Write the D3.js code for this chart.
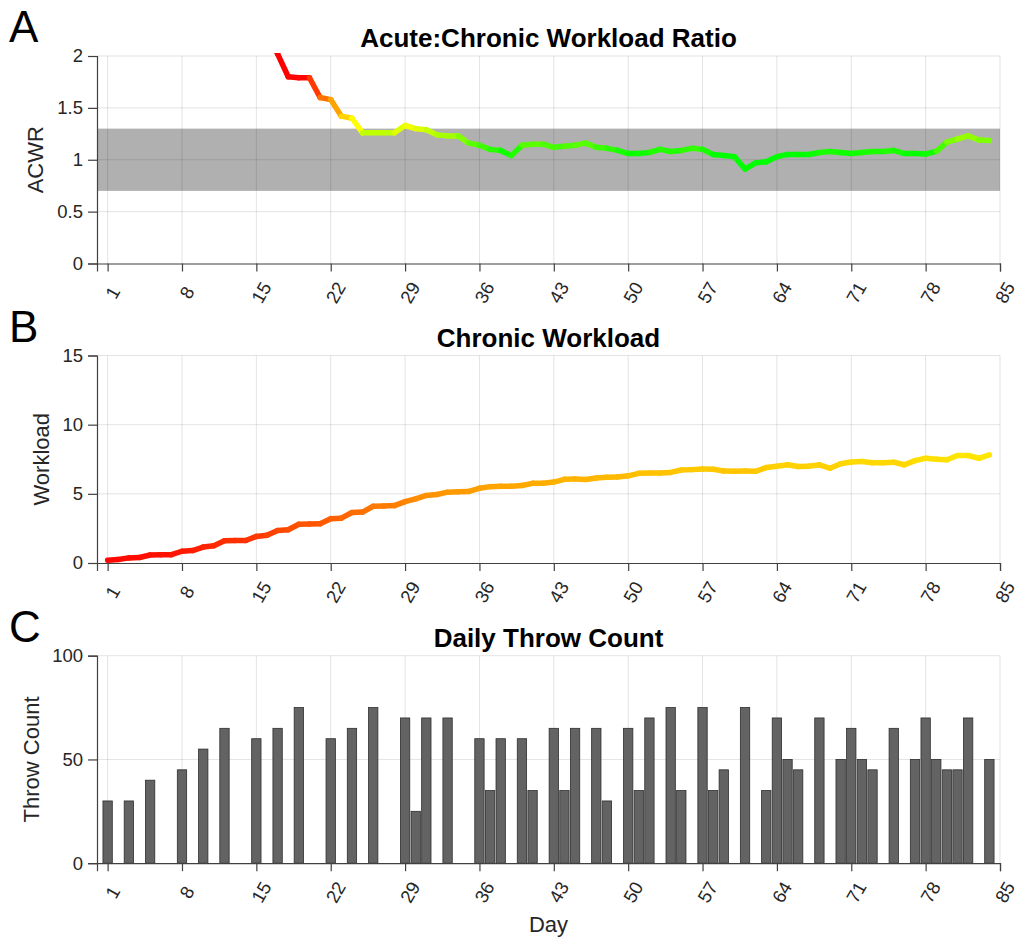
<!DOCTYPE html>
<html>
<head>
<meta charset="utf-8">
<script src="https://cdnjs.cloudflare.com/ajax/libs/d3/7.8.5/d3.min.js"></script>
<style>
  body { margin: 0; background: #fff; }
  text { font-family: "Liberation Sans", Arial, sans-serif; fill: #262626; }
  .title { font-weight: bold; font-size: 26px; fill: #000; }
  .letter { font-size: 44px; fill: #000; }
  .tick { font-size: 18.5px; }
  .ylab { font-size: 22px; }
</style>
</head>
<body>
<div id="viz"></div>
<script>
// ---- data ----
var xTicks = [1, 8, 15, 22, 29, 36, 43, 50, 57, 64, 71, 78, 85];

// acute:chronic ratio, one value per day starting at day 16 (earlier days are off the chart)
var acwrStart = 16;
var acwr = [2.25, 2.02, 1.80, 1.79, 1.79, 1.60, 1.58, 1.42, 1.40, 1.26,
            1.26, 1.26, 1.26, 1.33, 1.30, 1.29, 1.24, 1.23, 1.23, 1.16,
            1.14, 1.10, 1.09, 1.04, 1.14, 1.15, 1.15, 1.12, 1.13, 1.14,
            1.16, 1.12, 1.11, 1.09, 1.06, 1.06, 1.07, 1.10, 1.08, 1.09,
            1.11, 1.10, 1.05, 1.04, 1.03, 0.91, 0.97, 0.98, 1.03, 1.05,
            1.05, 1.05, 1.07, 1.08, 1.07, 1.06, 1.07, 1.08, 1.08, 1.09,
            1.06, 1.06, 1.055, 1.08, 1.17, 1.20, 1.23, 1.19, 1.185];
var acwrTicks = [0, 0.5, 1, 1.5, 2];
var safeBand = [0.7, 1.3];

// chronic workload, days 1..84
var chronic = [0.20, 0.25, 0.37, 0.40, 0.58, 0.59, 0.60, 0.85, 0.90, 1.15,
               1.25, 1.60, 1.62, 1.63, 1.92, 2.00, 2.35, 2.40, 2.80, 2.82,
               2.84, 3.20, 3.24, 3.65, 3.68, 4.10, 4.12, 4.15, 4.44, 4.64,
               4.88, 4.95, 5.12, 5.15, 5.17, 5.40, 5.52, 5.55, 5.55, 5.60,
               5.76, 5.77, 5.85, 6.05, 6.08, 6.03, 6.15, 6.20, 6.22, 6.30,
               6.48, 6.50, 6.50, 6.55, 6.72, 6.75, 6.80, 6.78, 6.65, 6.63,
               6.65, 6.63, 6.90, 7.00, 7.10, 6.97, 7.00, 7.10, 6.85, 7.17,
               7.30, 7.34, 7.24, 7.25, 7.28, 7.10, 7.40, 7.57, 7.50, 7.46,
               7.77, 7.77, 7.57, 7.82];
var chronicTicks = [0, 5, 10, 15];

// daily throw count (only days with throws)
var throwDays = [1, 3, 5, 8, 10, 12, 15, 17, 19, 22, 24, 26, 29, 30, 31, 33,
                 36, 37, 38, 40, 41, 43, 44, 45, 47, 48, 50, 51, 52, 54, 55,
                 57, 58, 59, 61, 63, 64, 65, 66, 68, 70, 71, 72, 73, 75,
                 77, 78, 79, 80, 81, 82, 84];
var throwCounts = [30, 30, 40, 45, 55, 65, 60, 65, 75, 60, 65, 75, 70, 25, 70, 70,
                   60, 35, 60, 60, 35, 65, 35, 65, 65, 30, 65, 35, 70, 75, 35,
                   75, 35, 45, 75, 35, 70, 50, 45, 70, 50, 65, 50, 45, 65,
                   50, 70, 50, 45, 45, 70, 50];
var throwTicks = [0, 50, 100];

// ---- layout ----
var width = 1019, height = 940;
var left = 97, right = 1000, plotH = 207.5;
var tops = [56, 355.5, 655.7];

var svg = d3.select("#viz").append("svg")
  .attr("width", width)
  .attr("height", height);

var x = d3.scaleLinear().domain([0, 85]).range([left, right]);

var acwrColor = d3.scaleLinear().domain([1.05, 1.33, 1.8])
  .range(["#00ff00", "#ffff00", "#ff0000"]).clamp(true);
var chronicColor = d3.scaleLinear().domain([0, 8])
  .range(["#ff0000", "#ffee00"]).clamp(true);

function panel(i, yMax, ticks, title, letter, ylab, ylabX) {
  var top = tops[i];
  var y = d3.scaleLinear().domain([0, yMax]).range([top + plotH, top]);
  var g = svg.append("g");
  var under = g.append("g");
  var grid = g.append("g");
  var data = g.append("g");

  // grid
  grid.selectAll(".gx").data(xTicks).enter().append("line")
    .attr("x1", d => x(d)).attr("x2", d => x(d))
    .attr("y1", top).attr("y2", top + plotH)
    .attr("stroke", "#000").attr("stroke-opacity", 0.11);
  grid.selectAll(".gy").data(ticks.slice(1)).enter().append("line")
    .attr("x1", left).attr("x2", right)
    .attr("y1", d => y(d)).attr("y2", d => y(d))
    .attr("stroke", "#000").attr("stroke-opacity", 0.11);

  // axes
  var ax = g.append("g").attr("transform", "translate(0," + (top + plotH) + ")")
    .call(d3.axisBottom(x).tickValues(xTicks).tickSize(8).tickFormat(""));
  var ay = g.append("g").attr("transform", "translate(" + left + ",0)")
    .call(d3.axisLeft(y).tickValues(ticks).tickSize(9).tickFormat(""));
  [ax, ay].forEach(function(a) {
    a.select(".domain").attr("stroke", "#404040").attr("stroke-width", 1.2);
    a.selectAll(".tick line").attr("stroke", "#404040").attr("stroke-width", 1.2);
  });

  g.selectAll(".xl").data(xTicks).enter().append("text")
    .attr("class", "tick")
    .attr("text-anchor", "middle")
    .attr("dy", "0.35em")
    .attr("transform", d => "translate(" + (x(d) + 5) + "," + (top + plotH + 29) + ") rotate(-60)")
    .text(d => d);
  g.selectAll(".yl").data(ticks).enter().append("text")
    .attr("class", "tick")
    .attr("text-anchor", "end")
    .attr("dy", "0.35em")
    .attr("x", left - 14)
    .attr("y", d => y(d))
    .text(d => d);

  g.append("text").attr("class", "title")
    .attr("text-anchor", "middle")
    .attr("x", (left + right) / 2).attr("y", top - 9)
    .text(title);
  g.append("text").attr("class", "letter")
    .attr("x", 9).attr("y", top - 14)
    .text(letter);
  g.append("text").attr("class", "ylab")
    .attr("text-anchor", "middle")
    .attr("transform", "translate(" + ylabX + "," + (top + plotH / 2) + ") rotate(-90)")
    .attr("dy", "0.35em")
    .text(ylab);

  return {y: y, under: under, data: data, top: top};
}

// clip for panel A line
svg.append("clipPath").attr("id", "clipA").append("rect")
  .attr("x", left).attr("y", tops[0] - 3).attr("width", right - left).attr("height", plotH + 3);

// A
var pA = panel(0, 2, acwrTicks, "Acute:Chronic Workload Ratio", "A", "ACWR", 35);
pA.under.append("rect")
  .attr("x", left).attr("width", right - left)
  .attr("y", pA.y(safeBand[1]))
  .attr("height", pA.y(safeBand[0]) - pA.y(safeBand[1]))
  .attr("fill", "#b0b0b0");
var acwrPts = acwr.map((v, i) => [acwrStart + i, v]);
pA.data.append("g").attr("clip-path", "url(#clipA)")
  .selectAll("line").data(d3.pairs(acwrPts)).enter().append("line")
  .attr("x1", d => x(d[0][0])).attr("y1", d => pA.y(d[0][1]))
  .attr("x2", d => x(d[1][0])).attr("y2", d => pA.y(d[1][1]))
  .attr("stroke", d => acwrColor((d[0][1] + d[1][1]) / 2))
  .attr("stroke-width", 5.5)
  .attr("stroke-linecap", "round");

// B
var pB = panel(1, 15, chronicTicks, "Chronic Workload", "B", "Workload", 41);
var chronicPts = chronic.map((v, i) => [i + 1, v]);
pB.data.selectAll("line").data(d3.pairs(chronicPts)).enter().append("line")
  .attr("x1", d => x(d[0][0])).attr("y1", d => pB.y(d[0][1]))
  .attr("x2", d => x(d[1][0])).attr("y2", d => pB.y(d[1][1]))
  .attr("stroke", d => chronicColor((d[0][1] + d[1][1]) / 2))
  .attr("stroke-width", 5.5)
  .attr("stroke-linecap", "round");

// C
var pC = panel(2, 100, throwTicks, "Daily Throw Count", "C", "Throw Count", 31);
var barW = (x(1) - x(0)) * 0.88;
pC.data.selectAll("rect").data(throwDays).enter().append("rect")
  .attr("x", d => x(d) - barW / 2)
  .attr("width", barW)
  .attr("y", (d, i) => pC.y(throwCounts[i]))
  .attr("height", (d, i) => pC.y(0) - pC.y(throwCounts[i]))
  .attr("fill", "#636363")
  .attr("stroke", "#2e2e2e")
  .attr("stroke-width", 0.8);

svg.append("text").attr("class", "ylab")
  .attr("text-anchor", "middle")
  .attr("x", (left + right) / 2).attr("y", 932)
  .text("Day");
</script>
</body>
</html>
